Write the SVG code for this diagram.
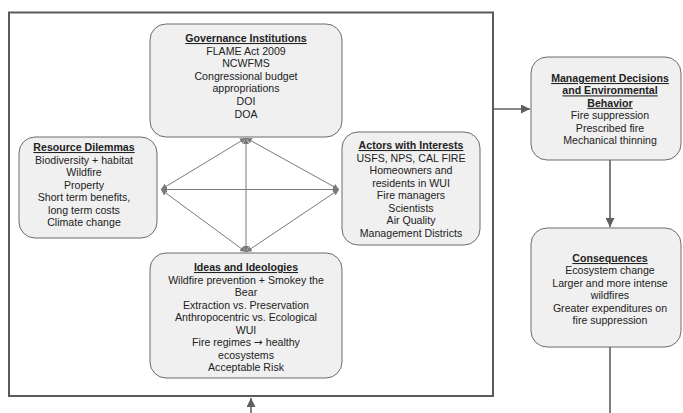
<svg xmlns="http://www.w3.org/2000/svg" width="683" height="413" viewBox="0 0 683 413">
<style>
.box{fill:#f0f0f0;stroke:#6b6b6b;stroke-width:1}
text{font-family:"Liberation Sans",Arial,sans-serif;font-size:10.6px;fill:#222;text-anchor:middle}
.t{font-weight:bold;text-decoration:underline}
.c{stroke:#7a7a7a;stroke-width:1;fill:none}
.a{stroke:#5f5f5f;stroke-width:1.6;fill:none}
</style>
<defs>
<marker id="m" viewBox="0 0 10 10" refX="10" refY="5" markerWidth="6" markerHeight="6" markerUnits="userSpaceOnUse" orient="auto-start-reverse"><path d="M0,0 L10,5 L0,10 z" fill="#7a7a7a"/></marker>
<marker id="M" viewBox="0 0 10 10" refX="10" refY="5" markerWidth="10" markerHeight="9" markerUnits="userSpaceOnUse" orient="auto"><path d="M0,0 L10,5 L0,10 z" fill="#5f5f5f"/></marker>
</defs>
<rect x="9" y="12.5" width="484" height="383.5" fill="none" stroke="#5a5a5a" stroke-width="2"/>
<g id="connectors">
<line class="c" x1="161" y1="189.5" x2="339" y2="189.5" marker-start="url(#m)" marker-end="url(#m)"/>
<line class="c" x1="246" y1="138" x2="246" y2="252" marker-start="url(#m)" marker-end="url(#m)"/>
<line class="c" x1="161" y1="189.5" x2="246" y2="138" marker-start="url(#m)" marker-end="url(#m)"/>
<line class="c" x1="339" y1="189.5" x2="246" y2="138" marker-start="url(#m)" marker-end="url(#m)"/>
<line class="c" x1="161" y1="189.5" x2="246" y2="252" marker-start="url(#m)" marker-end="url(#m)"/>
<line class="c" x1="339" y1="189.5" x2="246" y2="252" marker-start="url(#m)" marker-end="url(#m)"/>
<line class="a" x1="493" y1="109" x2="530" y2="109" marker-end="url(#M)"/>
<line class="a" x1="610" y1="160" x2="610" y2="227" marker-end="url(#M)"/>
<line class="a" x1="610" y1="347" x2="610" y2="413"/>
<line class="a" x1="251" y1="413" x2="251" y2="398" marker-end="url(#M)"/>
</g>
<g id="governance">
<rect class="box" x="150" y="24" width="192" height="113" rx="16"/>
<text class="t" x="246" y="42">Governance Institutions</text>
<text x="246" y="54.6">FLAME Act 2009</text>
<text x="246" y="67.2">NCWFMS</text>
<text x="246" y="79.8">Congressional budget</text>
<text x="246" y="92.4">appropriations</text>
<text x="246" y="105">DOI</text>
<text x="246" y="117.6">DOA</text>
</g>
<g id="resource">
<rect class="box" x="19" y="137" width="138" height="101" rx="16"/>
<text class="t" x="84" y="151">Resource Dilemmas</text>
<text x="84" y="163.5">Biodiversity + habitat</text>
<text x="84" y="176">Wildfire</text>
<text x="84" y="188.5">Property</text>
<text x="84" y="201">Short term benefits,</text>
<text x="84" y="213.5">long term costs</text>
<text x="84" y="226">Climate change</text>
</g>
<g id="actors">
<rect class="box" x="342" y="132" width="138" height="113" rx="16"/>
<text class="t" x="411" y="149">Actors with Interests</text>
<text x="411" y="161.5">USFS, NPS, CAL FIRE</text>
<text x="411" y="174">Homeowners and</text>
<text x="411" y="186.5">residents in WUI</text>
<text x="411" y="199">Fire managers</text>
<text x="411" y="211.5">Scientists</text>
<text x="411" y="224">Air Quality</text>
<text x="411" y="236.5">Management Districts</text>
</g>
<g id="ideas">
<rect class="box" x="150" y="253" width="192" height="125" rx="16"/>
<text class="t" x="246" y="271">Ideas and Ideologies</text>
<text x="246" y="283.5">Wildfire prevention + Smokey the</text>
<text x="246" y="296">Bear</text>
<text x="246" y="308.5">Extraction vs. Preservation</text>
<text x="246" y="321">Anthropocentric vs. Ecological</text>
<text x="246" y="333.5">WUI</text>
<text x="246" y="346">Fire regimes <tspan style="font-family:'DejaVu Sans',sans-serif">→</tspan> healthy</text>
<text x="246" y="358.5">ecosystems</text>
<text x="246" y="371">Acceptable Risk</text>
</g>
<g id="management">
<rect class="box" x="531" y="57" width="150" height="103" rx="16"/>
<text class="t" x="610" y="82">Management Decisions</text>
<text class="t" x="610" y="94.4">and Environmental</text>
<text class="t" x="610" y="106.8">Behavior</text>
<text x="610" y="119.2">Fire suppression</text>
<text x="610" y="131.6">Prescribed fire</text>
<text x="610" y="144">Mechanical thinning</text>
</g>
<g id="consequences">
<rect class="box" x="531" y="228" width="150" height="119" rx="16"/>
<text class="t" x="610" y="262">Consequences</text>
<text x="610" y="274.4">Ecosystem change</text>
<text x="610" y="286.8">Larger and more intense</text>
<text x="610" y="299.2">wildfires</text>
<text x="610" y="311.6">Greater expenditures on</text>
<text x="610" y="324">fire suppression</text>
</g>
</svg>
